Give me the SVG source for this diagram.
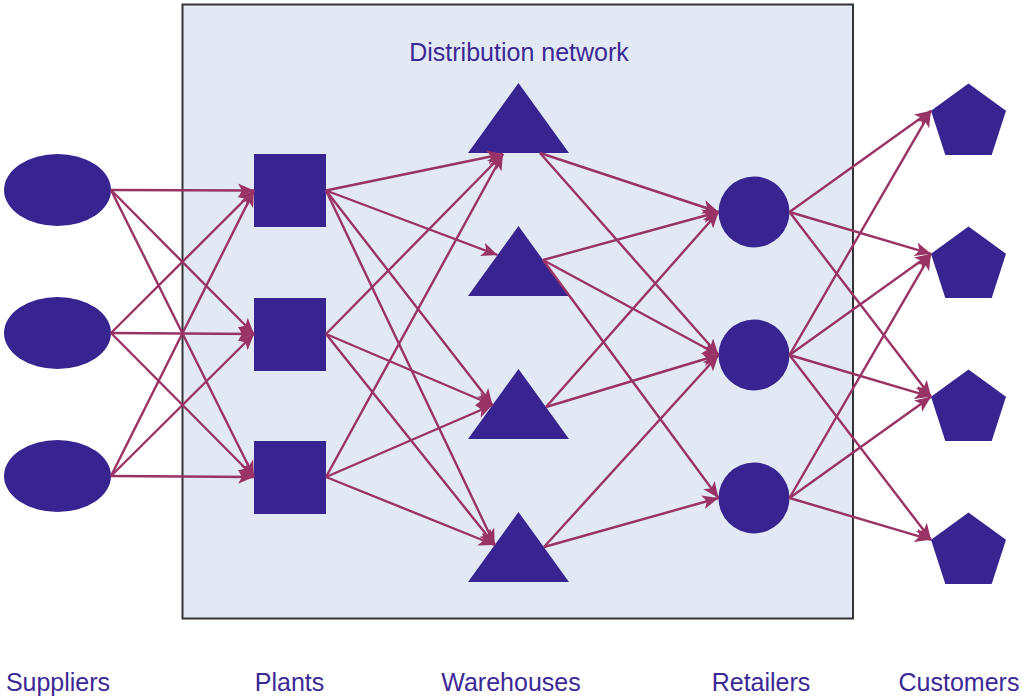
<svg xmlns="http://www.w3.org/2000/svg" width="1021" height="698" viewBox="0 0 1021 698">
  <style>
    .node { fill: #372490; }
    .label { font-family: "Liberation Sans", Arial, sans-serif; font-size: 25px; fill: #3b2996; text-anchor: middle; }
    .edge { stroke: #993366; stroke-width: 2.4; fill: none; marker-end: url(#arrow); }
  </style>
  <defs>
    <marker id="arrow" markerUnits="userSpaceOnUse" markerWidth="18" markerHeight="16" refX="16" refY="7" orient="auto">
      <path d="M0,0 L16,7 L0,14 L4,7 Z" fill="#993366"/>
    </marker>
  </defs>

  <rect width="1021" height="698" fill="#ffffff"/>

  <!-- distribution network boundary -->
  <g id="distribution-network">
    <rect x="182.5" y="4.5" width="670.5" height="614" fill="#e3e9f4" stroke="#333333" stroke-width="2"/>
    <text class="label" x="519" y="61">Distribution network</text>
  </g>

  <!-- suppliers -->
  <g id="supplier-1"><ellipse class="node" cx="57.5" cy="190" rx="53.5" ry="36"/></g>
  <g id="supplier-2"><ellipse class="node" cx="57.5" cy="333" rx="53.5" ry="36"/></g>
  <g id="supplier-3"><ellipse class="node" cx="57.5" cy="476" rx="53.5" ry="36"/></g>

  <!-- plants -->
  <g id="plant-1"><rect class="node" x="254" y="154" width="72" height="73"/></g>
  <g id="plant-2"><rect class="node" x="254" y="298" width="72" height="73"/></g>
  <g id="plant-3"><rect class="node" x="254" y="441" width="72" height="73"/></g>

  <!-- warehouses -->
  <g id="warehouse-1"><polygon class="node" points="518.5,83 569,153 468,153"/></g>
  <g id="warehouse-2"><polygon class="node" points="518.5,226 569,296 468,296"/></g>
  <g id="warehouse-3"><polygon class="node" points="518.5,369 569,439 468,439"/></g>
  <g id="warehouse-4"><polygon class="node" points="518.5,512 569,582 468,582"/></g>

  <!-- retailers -->
  <g id="retailer-1"><circle class="node" cx="754" cy="212" r="35.5"/></g>
  <g id="retailer-2"><circle class="node" cx="754" cy="355" r="35.5"/></g>
  <g id="retailer-3"><circle class="node" cx="754" cy="498" r="35.5"/></g>

  <!-- customers -->
  <g id="customer-1"><polygon class="node" points="968.5,83.6 1006,110.8 991.7,154.9 945.3,154.9 931,110.8"/></g>
  <g id="customer-2"><polygon class="node" points="968.5,226.6 1006,253.8 991.7,297.9 945.3,297.9 931,253.8"/></g>
  <g id="customer-3"><polygon class="node" points="968.5,369.6 1006,396.8 991.7,440.9 945.3,440.9 931,396.8"/></g>
  <g id="customer-4"><polygon class="node" points="968.5,512.6 1006,539.8 991.7,583.9 945.3,583.9 931,539.8"/></g>

  <!-- connectors -->
  <g id="connectors">
    <!-- suppliers to plants -->
    <line class="edge" x1="111" y1="190" x2="254" y2="190.5"/>
    <line class="edge" x1="111" y1="190" x2="254" y2="334"/>
    <line class="edge" x1="111" y1="190" x2="254" y2="477"/>
    <line class="edge" x1="111" y1="333" x2="254" y2="190.5"/>
    <line class="edge" x1="111" y1="333" x2="254" y2="334"/>
    <line class="edge" x1="111" y1="333" x2="254" y2="477"/>
    <line class="edge" x1="111" y1="476" x2="254" y2="190.5"/>
    <line class="edge" x1="111" y1="476" x2="254" y2="334"/>
    <line class="edge" x1="111" y1="476" x2="254" y2="477"/>

    <!-- plants to warehouses -->
    <line class="edge" x1="326" y1="190.5" x2="503" y2="154"/>
    <line class="edge" x1="326" y1="190.5" x2="497.5" y2="255"/>
    <line class="edge" x1="326" y1="190.5" x2="492.5" y2="405"/>
    <line class="edge" x1="326" y1="190.5" x2="494.7" y2="545"/>
    <line class="edge" x1="326" y1="334" x2="503" y2="154"/>
    <line class="edge" x1="326" y1="334" x2="492.5" y2="405"/>
    <line class="edge" x1="326" y1="334" x2="494.7" y2="545"/>
    <line class="edge" x1="326" y1="477" x2="503" y2="154"/>
    <line class="edge" x1="326" y1="477" x2="492.5" y2="405"/>
    <line class="edge" x1="326" y1="477" x2="494.7" y2="545"/>

    <!-- warehouses to retailers -->
    <line class="edge" x1="540" y1="153" x2="718.5" y2="212"/>
    <line class="edge" x1="540" y1="153" x2="718.5" y2="355"/>
    <line class="edge" x1="543" y1="260" x2="718.5" y2="212"/>
    <line class="edge" x1="543" y1="260" x2="718.5" y2="355"/>
    <line class="edge" x1="543" y1="260" x2="718.5" y2="498"/>
    <line class="edge" x1="546" y1="407" x2="718.5" y2="212"/>
    <line class="edge" x1="546" y1="407" x2="718.5" y2="355"/>
    <line class="edge" x1="544" y1="547" x2="718.5" y2="355"/>
    <line class="edge" x1="544" y1="547" x2="718.5" y2="498"/>

    <!-- retailers to customers -->
    <line class="edge" x1="789.5" y1="212" x2="931" y2="110.8"/>
    <line class="edge" x1="789.5" y1="212" x2="931" y2="253.8"/>
    <line class="edge" x1="789.5" y1="212" x2="931" y2="396.8"/>
    <line class="edge" x1="789.5" y1="355" x2="931" y2="110.8"/>
    <line class="edge" x1="789.5" y1="355" x2="931" y2="253.8"/>
    <line class="edge" x1="789.5" y1="355" x2="931" y2="396.8"/>
    <line class="edge" x1="789.5" y1="355" x2="931" y2="539.8"/>
    <line class="edge" x1="789.5" y1="498" x2="931" y2="253.8"/>
    <line class="edge" x1="789.5" y1="498" x2="931" y2="396.8"/>
    <line class="edge" x1="789.5" y1="498" x2="931" y2="539.8"/>
  </g>

  <!-- column captions -->
  <g id="captions">
    <text class="label" x="58" y="691">Suppliers</text>
    <text class="label" x="289.5" y="691">Plants</text>
    <text class="label" x="511" y="691">Warehouses</text>
    <text class="label" x="761" y="691">Retailers</text>
    <text class="label" x="959" y="691">Customers</text>
  </g>
</svg>
